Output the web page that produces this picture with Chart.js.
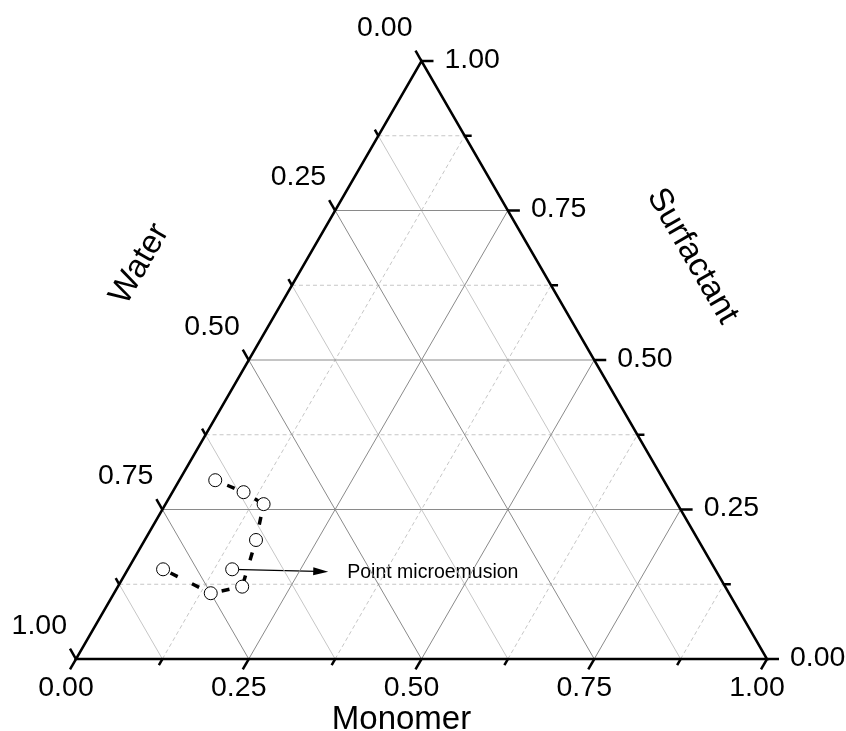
<!DOCTYPE html>
<html>
<head>
<meta charset="utf-8">
<script src="https://cdn.jsdelivr.net/npm/chart.js@4.4.1/dist/chart.umd.min.js"></script>
<style>
  html, body { margin: 0; padding: 0; background: #fff; }
  #wrap { width: 846px; height: 731px; }
</style>
</head>
<body>
<div id="wrap"><canvas id="ternary" width="846" height="731"></canvas></div>
<script>
// axes
const titleBottom = 'Monomer';
const titleLeft = 'Water';
const titleRight = 'Surfactant';
const tickValues = [0, 0.25, 0.5, 0.75, 1];
const tickLabels = ['0.00', '0.25', '0.50', '0.75', '1.00'];
const minorValues = [0.125, 0.375, 0.625, 0.875];

// composition path, water = 1 - monomer - surfactant
const pathMonomer = [0.052, 0.103, 0.142, 0.161, 0.180, 0.140, 0.051];
const pathSurfactant = [0.299, 0.279, 0.259, 0.199, 0.121, 0.110, 0.150];

// microemulsion point + arrow
const microMonomer = [0.151];
const microSurfactant = [0.150];
const microLabel = 'Point microemusion';
const arrowMonomer = [0.292];
const arrowSurfactant = [0.146];

const H = Math.sqrt(3) / 2;
const toXY = (m, s) => ({ x: m + s / 2, y: s * H });

const FONT = '"Liberation Sans", Arial, sans-serif';
const MAJOR = '#8a8a8a';
const MINOR = '#c6c6c6';

function lineSet(pts, color, width, dash, order, extra) {
    return Object.assign({
        data: pts,
        showLine: true,
        borderColor: color,
        borderWidth: width,
        borderDash: dash || [],
        pointRadius: 0,
        clip: false,
        order: order
    }, extra || {});
}

const datasets = [];

// data circles
datasets.push({
    data: pathMonomer.map((m, i) => toXY(m, pathSurfactant[i]))
        .concat(microMonomer.map((m, i) => toXY(m, microSurfactant[i]))),
    showLine: false,
    pointRadius: 6.5,
    pointBackgroundColor: '#fff',
    pointBorderColor: '#000',
    pointBorderWidth: 1,
    clip: false,
    order: 0
});

// dashed connections, one segment at a time
for (let i = 0; i < pathMonomer.length - 1; i++) {
    datasets.push(lineSet(
        [toXY(pathMonomer[i], pathSurfactant[i]), toXY(pathMonomer[i + 1], pathSurfactant[i + 1])],
        '#000', 3.5, [8, 16], 1, { borderDashOffset: 11, borderCapStyle: 'butt' }));
}

// frame
datasets.push(lineSet([toXY(0, 0), toXY(1, 0), toXY(0, 1), toXY(0, 0), toXY(1, 0)],
    '#000', 2.5, [], 3, { borderJoinStyle: 'miter' }));

// major grid
tickValues.slice(1, -1).forEach(v => {
    datasets.push(lineSet([toXY(0, v), toXY(1 - v, v)], MAJOR, 1, [], 5));
    datasets.push(lineSet([toXY(v, 0), toXY(v, 1 - v)], MAJOR, 1, [], 5));
    datasets.push(lineSet([toXY(1 - v, 0), toXY(0, 1 - v)], MAJOR, 1, [], 5));
});

// minor grid
minorValues.forEach(v => {
    datasets.push(lineSet([toXY(0, v), toXY(1 - v, v)], MINOR, 1, [4, 3], 6));
    datasets.push(lineSet([toXY(v, 0), toXY(v, 1 - v)], MINOR, 1, [4, 3], 6));
    datasets.push(lineSet([toXY(1 - v, 0), toXY(0, 1 - v)], MINOR, 1, [], 6));
});

function px(chart, m, s) {
    const p = toXY(m, s);
    return { x: chart.scales.x.getPixelForValue(p.x), y: chart.scales.y.getPixelForValue(p.y) };
}

const arrowPlugin = {
    id: 'arrow',
    beforeDatasetsDraw(chart) {
        const ctx = chart.ctx;
        const a = px(chart, microMonomer[0], microSurfactant[0]);
        const b = px(chart, arrowMonomer[0], arrowSurfactant[0]);
        const ang = Math.atan2(b.y - a.y, b.x - a.x);
        ctx.save();
        ctx.strokeStyle = '#000';
        ctx.lineWidth = 1.2;
        ctx.beginPath();
        ctx.moveTo(a.x, a.y);
        ctx.lineTo(b.x - 12 * Math.cos(ang), b.y - 12 * Math.sin(ang));
        ctx.stroke();
        ctx.translate(b.x, b.y);
        ctx.rotate(ang);
        ctx.fillStyle = '#000';
        ctx.beginPath();
        ctx.moveTo(0, 0);
        ctx.lineTo(-15, -4);
        ctx.lineTo(-15, 4);
        ctx.closePath();
        ctx.fill();
        ctx.restore();

        ctx.save();
        ctx.font = '19.5px ' + FONT;
        ctx.fillStyle = '#000';
        ctx.textAlign = 'left';
        ctx.textBaseline = 'middle';
        ctx.fillText(microLabel, b.x + 19, b.y + 1);
        ctx.restore();
    }
};

const axesPlugin = {
    id: 'ternaryAxes',
    afterDatasetsDraw(chart) {
        const ctx = chart.ctx;
        const allTicks = tickValues.concat(minorValues);
        const isMajor = v => tickValues.includes(v);
        ctx.save();
        ctx.strokeStyle = '#000';
        ctx.lineWidth = 2.5;
        ctx.lineCap = 'butt';
        allTicks.forEach(v => {
            const len = isMajor(v) ? 12 : 7;
            const marks = [
                [px(chart, v, 0), -0.5, H],        // bottom
                [px(chart, 0, 1 - v), -0.5, -H],   // left (water = v)
                [px(chart, 1 - v, v), 1, 0]        // right
            ];
            marks.forEach(([p, dx, dy]) => {
                ctx.beginPath();
                ctx.moveTo(p.x, p.y);
                ctx.lineTo(p.x + dx * len, p.y + dy * len);
                ctx.stroke();
            });
        });

        ctx.fillStyle = '#000';
        ctx.font = '28.5px ' + FONT;
        ctx.textBaseline = 'middle';
        tickValues.forEach((v, i) => {
            let p = px(chart, v, 0);
            ctx.textAlign = 'center';
            ctx.fillText(tickLabels[i], p.x - 10, p.y + 29);
            p = px(chart, 0, 1 - v);
            ctx.textAlign = 'right';
            ctx.fillText(tickLabels[i], p.x - 9, p.y - 33);
            p = px(chart, 1 - v, v);
            ctx.textAlign = 'left';
            ctx.fillText(tickLabels[i], p.x + 23, p.y - 1);
        });

        ctx.font = '33px ' + FONT;
        ctx.textAlign = 'center';
        let p = px(chart, 0.5, 0);
        ctx.textBaseline = 'alphabetic';
        ctx.fillText(titleBottom, p.x - 20, p.y + 70);
        ctx.textBaseline = 'middle';

        p = px(chart, 0, 0.5);
        ctx.save();
        ctx.translate(p.x - 109, p.y - 96);
        ctx.rotate(-Math.PI / 3);
        ctx.fillText(titleLeft, 0, 0);
        ctx.restore();

        p = px(chart, 0.5, 0.5);
        ctx.save();
        ctx.translate(p.x + 98, p.y - 104);
        ctx.rotate(Math.PI / 3);
        ctx.fillText(titleRight, 0, 0);
        ctx.restore();
        ctx.restore();
    }
};

new Chart(document.getElementById('ternary').getContext('2d'), {
    type: 'scatter',
    data: { datasets: datasets },
    options: {
        responsive: false,
        animation: false,
        events: [],
        devicePixelRatio: 1,
        layout: { padding: { left: 76, right: 79, top: 61, bottom: 72 } },
        scales: {
            x: { type: 'linear', min: 0, max: 1, display: false },
            y: { type: 'linear', min: 0, max: H, display: false }
        },
        plugins: {
            legend: { display: false },
            tooltip: { enabled: false }
        }
    },
    plugins: [arrowPlugin, axesPlugin]
});
</script>
</body>
</html>
